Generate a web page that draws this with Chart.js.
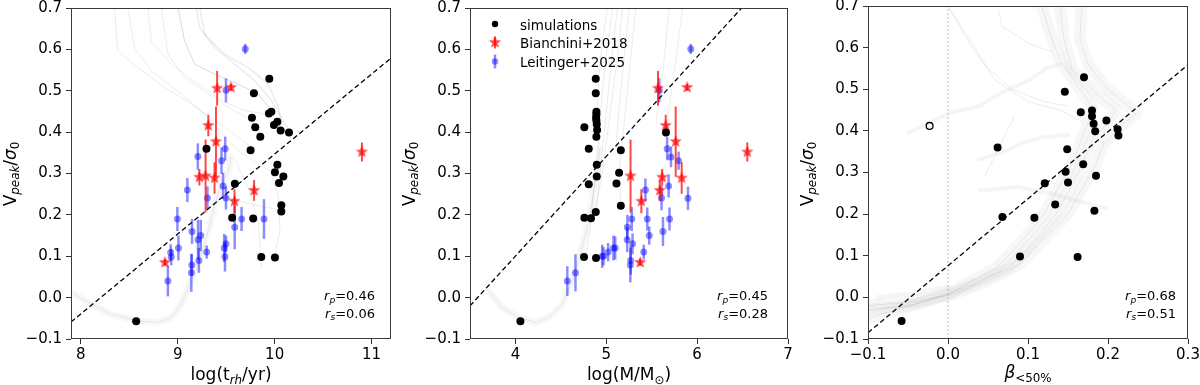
<!DOCTYPE html>
<html><head><meta charset="utf-8">
<script src="https://cdn.jsdelivr.net/npm/chart.js@4.4.1/dist/chart.umd.min.js"></script>
<style>
html,body{margin:0;padding:0;background:#fff;}
#wrap{position:relative;width:1200px;height:385px;overflow:hidden;background:#fff;}
canvas{position:absolute;top:0;}
</style></head><body>
<div id="wrap">
<canvas id="c1" width="400" height="385" style="left:0px"></canvas>
<canvas id="c2" width="400" height="385" style="left:400px"></canvas>
<canvas id="c3" width="400" height="385" style="left:800px"></canvas>
</div>
<script>
// ---------------- DATA ----------------
const yTicks = [-0.1,0.0,0.1,0.2,0.3,0.4,0.5,0.6,0.7];
const x1Ticks = [8,9,10,11];
const x2Ticks = [4,5,6,7];
const x3Ticks = [-0.1,0.0,0.1,0.2,0.3];
const legendLabels = ["simulations","Bianchini+2018","Leitinger+2025"];
const stats1 = ["0.46","0.06"];
const stats2 = ["0.45","0.28"];
const stats3 = ["0.68","0.51"];

// simulations (black)
const p1SimX = [9.945,9.786,9.766,9.941,9.966,9.80,9.993,10.028,10.062,10.148,9.852,9.752,9.297,10.028,10.003,10.09,10.045,9.59,10.069,10.069,9.562,9.779,9.862,10.003,8.572];
const p1SimY = [0.529,0.494,0.435,0.445,0.449,0.412,0.417,0.425,0.404,0.399,0.389,0.356,0.360,0.321,0.303,0.293,0.277,0.275,0.223,0.208,0.193,0.191,0.098,0.097,-0.057];
const p2SimX = [4.884,4.884,4.891,4.891,4.888,4.891,4.895,4.899,4.891,4.759,5.657,4.807,5.16,4.895,5.141,4.895,4.807,5.112,5.16,4.884,4.759,4.832,4.755,4.887,4.055];
const p2SimY = [0.529,0.494,0.449,0.443,0.435,0.428,0.419,0.405,0.389,0.412,0.399,0.360,0.356,0.321,0.302,0.293,0.274,0.276,0.222,0.207,0.193,0.192,0.098,0.096,-0.057];
const p3SimX = [0.170,0.146,0.166,0.180,0.180,0.198,0.182,0.184,0.212,0.213,0.062,0.149,0.169,0.147,0.121,0.150,0.185,0.134,0.183,0.068,0.108,0.090,0.162,-0.058];
const p3SimY = [0.529,0.494,0.445,0.449,0.435,0.425,0.417,0.399,0.404,0.389,0.360,0.356,0.320,0.302,0.274,0.276,0.292,0.223,0.208,0.193,0.191,0.098,0.097,-0.057];
const p3OpenX = [-0.023];
const p3OpenY = [0.412];

// Bianchini+2018 (red stars)
const starY   = [0.506,0.508,0.416,0.377,0.294,0.291,0.289,0.259,0.233,0.085,0.352];
const starErr = [0.042,0.008,0.026,0.085,0.088,0.020,0.038,0.025,0.029,0.008,0.023];
const p1StarX = [9.407,9.550,9.316,9.395,9.288,9.224,9.380,9.788,9.586,8.869,10.900];
const p2StarX = [5.569,5.890,5.654,5.764,5.267,5.615,5.830,5.589,5.386,5.373,6.552];

// Leitinger+2025 (blue)
const p1BlueX = [9.697,9.498,9.208,9.490,9.452,9.100,9.307,9.468,9.498,8.997,9.659,9.890,9.588,9.148,9.210,9.238,9.008,8.928,8.934,9.299,9.480,9.498,9.488,9.219,9.146,9.141,8.899];
const p1BlueY = [0.601,0.501,0.341,0.360,0.331,0.260,0.241,0.270,0.241,0.190,0.190,0.190,0.170,0.160,0.140,0.150,0.120,0.109,0.098,0.110,0.120,0.130,0.099,0.090,0.079,0.060,0.040];
const p1BlueE = [0.012,0.029,0.032,0.029,0.032,0.029,0.028,0.032,0.028,0.029,0.029,0.048,0.053,0.030,0.048,0.038,0.030,0.020,0.020,0.016,0.034,0.020,0.036,0.030,0.026,0.046,0.037];
const p2BlueX = [5.930,5.583,5.670,5.712,5.796,5.686,5.431,5.608,5.899,5.280,5.451,5.696,5.232,5.624,5.230,5.473,5.289,5.079,5.098,5.412,5.020,4.955,4.969,5.269,5.265,4.661,4.571];
const p2BlueY = [0.601,0.501,0.360,0.340,0.331,0.270,0.260,0.241,0.240,0.190,0.190,0.190,0.170,0.160,0.140,0.150,0.130,0.120,0.120,0.110,0.110,0.100,0.100,0.090,0.079,0.060,0.040];
const p2BlueE = [0.012,0.029,0.028,0.025,0.022,0.028,0.028,0.030,0.028,0.029,0.028,0.028,0.030,0.035,0.030,0.022,0.025,0.030,0.028,0.018,0.022,0.028,0.022,0.034,0.042,0.045,0.036];

// linear fits (dashed) and reference line
const p1Fit = [[7.9,-0.059],[11.2,0.579]];
const p2Fit = [[3.5,-0.020],[6.49,0.700]];
const p3Fit = [[-0.1,-0.085],[0.3,0.559]];
const p3Zero = [[0,-0.1],[0,0.7]];

// simulation tracks (grey)
const p1TrkA = [[8.348,0.70],[8.383,0.596],[8.59,0.556],[8.866,0.508],[9.141,0.468],[9.383,0.428],[9.624,0.388],[9.762,0.363]];
const p1TrkB = [[8.693,0.70],[8.728,0.62],[8.934,0.564],[9.21,0.516],[9.452,0.476],[9.693,0.452],[9.90,0.444]];
const p1TrkC = [[9.003,0.70],[9.072,0.62],[9.176,0.564],[9.383,0.54],[9.624,0.516],[9.831,0.492],[9.969,0.452]];
const p1TrkD = [[9.193,0.70],[9.228,0.652],[9.383,0.604],[9.59,0.564],[9.797,0.524],[9.969,0.476],[10.107,0.42],[10.159,0.40]];
const p1TrkE = [[9.228,0.70],[9.279,0.636],[9.486,0.588],[9.728,0.556],[9.934,0.516],[10.038,0.46],[10.07,0.42]];
const p1TrkF = [[8.486,0.70],[8.555,0.604],[8.728,0.548],[9.038,0.492],[9.279,0.444],[9.452,0.396],[9.624,0.355],[9.831,0.323],[9.969,0.305],[10.038,0.241],[10.055,0.161],[10.003,0.105]];
const p1TrkG = [[8.831,0.70],[8.90,0.588],[9.072,0.532],[9.314,0.492],[9.521,0.46],[9.762,0.428],[9.85,0.39]];
const p1TrkH = [[9.417,0.305],[9.521,0.241],[9.762,0.225],[10.038,0.213]];
const p1TrkI = [[9.60,0.33],[9.728,0.265],[9.831,0.185],[9.866,0.073]];
const p1TrkU = [[7.934,0.009],[8.107,-0.016],[8.314,-0.04],[8.59,-0.056],[8.797,-0.06],[8.934,-0.048],[9.038,-0.016],[9.141,0.041],[9.245,0.105],[9.314,0.161],[9.383,0.225],[9.452,0.273],[9.521,0.305],[9.55,0.34]];

const p2TrkA = [[5.012,0.70],[4.957,0.62],[4.92,0.54],[4.902,0.46],[4.89,0.40]];
const p2TrkB = [[5.068,0.70],[5.012,0.604],[4.957,0.50],[4.92,0.396],[4.90,0.33]];
const p2TrkC = [[5.123,0.70],[5.068,0.596],[5.012,0.476],[4.939,0.315],[4.89,0.21]];
const p2TrkD = [[5.178,0.70],[5.123,0.58],[5.049,0.46],[4.957,0.30],[4.86,0.19]];
const p2TrkE = [[5.252,0.70],[5.197,0.58],[5.141,0.46],[5.105,0.363]];
const p2TrkF = [[5.325,0.70],[5.252,0.54],[5.178,0.38],[5.141,0.30],[5.16,0.23]];
const p2TrkG = [[5.841,0.70],[5.768,0.58],[5.694,0.46],[5.657,0.404]];
const p2TrkH = [[5.694,0.70],[5.62,0.54],[5.547,0.42]];
const p2TrkI = [[4.884,0.305],[4.847,0.225],[4.81,0.145],[4.773,0.097]];
const p2TrkU = [[3.705,0.017],[3.852,-0.024],[4.036,-0.048],[4.221,-0.06],[4.368,-0.048],[4.515,-0.016],[4.626,0.041],[4.699,0.097],[4.773,0.153],[4.828,0.209],[4.865,0.265],[4.902,0.305],[4.93,0.36]];

const p3TrkA = [[0.117,0.70],[0.13,0.62],[0.14,0.57],[0.165,0.50],[0.18,0.46],[0.175,0.42],[0.165,0.37],[0.158,0.33],[0.14,0.27],[0.12,0.20],[0.09,0.13],[0.06,0.07],[0.02,0.03],[0.0,0.005],[-0.05,-0.02],[-0.1,-0.03]];
const p3TrkB = [[0.167,0.70],[0.165,0.62],[0.175,0.56],[0.20,0.50],[0.225,0.46],[0.235,0.44],[0.215,0.41],[0.195,0.37],[0.185,0.32],[0.17,0.27],[0.15,0.20],[0.12,0.14],[0.09,0.08],[0.05,0.04],[0.01,0.01],[-0.04,-0.01],[-0.1,-0.02]];
const p3TrkC = [[0.14,0.70],[0.145,0.62],[0.155,0.55],[0.185,0.49],[0.21,0.45],[0.20,0.42],[0.18,0.38],[0.17,0.33],[0.155,0.27],[0.135,0.20],[0.105,0.13],[0.075,0.07],[0.03,0.03],[-0.03,-0.01],[-0.1,-0.05]];
const p3TrkD = [[0.0,0.70],[0.03,0.60],[0.06,0.52],[0.10,0.47],[0.14,0.45],[0.17,0.42]];
const p3TrkE = [[0.0,0.70],[0.02,0.64],[0.05,0.55],[0.08,0.50],[0.12,0.47],[0.15,0.46]];
const p3TrkF = [[0.063,0.69],[0.068,0.65],[0.085,0.63],[0.10,0.61],[0.13,0.59]];
const p3TrkG = [[-0.05,0.395],[0.004,0.444],[0.04,0.46],[0.067,0.492],[0.10,0.52],[0.121,0.548],[0.14,0.56]];
const p3TrkH = [[0.038,0.331],[0.07,0.35],[0.092,0.371],[0.12,0.385],[0.15,0.39]];
const p3TrkI = [[0.04,0.257],[0.088,0.265],[0.129,0.249],[0.198,0.213]];
const p3TrkJ = [[0.083,0.436],[0.046,0.291]];
const p3TrkK = [[-0.0875,0.0],[-0.04,0.01],[0.0,0.025]];

// ---------------- HELPERS ----------------
const FONT = '"DejaVu Sans", "Liberation Sans", sans-serif';
const pts = (xs, ys) => xs.map((x, i) => ({x: x, y: ys[i]}));
const pairs = arr => arr.map(p => ({x: p[0], y: p[1]}));
const fmt1 = v => { const s = Math.abs(v) < 1e-9 ? '0.0' : v.toFixed(1); return s.replace('-', '\u2212'); };
const fmt0 = v => String(Math.round(v));

function makeStar(R, color) {
  const s = Math.ceil(R * 2 + 2);
  const c = document.createElement('canvas'); c.width = s; c.height = s;
  const g = c.getContext('2d'); g.fillStyle = color; g.beginPath();
  for (let i = 0; i < 10; i++) {
    const r = i % 2 ? R * 0.42 : R;
    const a = -Math.PI / 2 + i * Math.PI / 5;
    g.lineTo(s / 2 + r * Math.cos(a), s / 2 + r * Math.sin(a));
  }
  g.closePath(); g.fill(); return c;
}
const RED = 'rgba(255,0,0,0.72)';
const BLUE = 'rgba(0,0,255,0.45)';
const starImg = makeStar(6.5, RED);

function richText(ctx, segs, x, y, size, align, rotate) {
  ctx.save();
  ctx.translate(x, y);
  if (rotate) ctx.rotate(-Math.PI / 2);
  let total = 0;
  const parts = segs.map(sg => {
    const t = sg[0], st = sg[1] || '', gap = sg[2] || 0;
    const sub = st.indexOf('s') >= 0, it = st.indexOf('i') >= 0;
    const fs = sub ? size * 0.7 : size;
    const font = (it ? 'italic ' : '') + fs + 'px ' + FONT;
    ctx.font = font;
    const w = ctx.measureText(t).width;
    total += w + gap * 2;
    return {t, font, w, gap, dy: sub ? size * 0.22 : 0};
  });
  let cx = align === 'center' ? -total / 2 : (align === 'right' ? -total : 0);
  ctx.textBaseline = 'alphabetic'; ctx.textAlign = 'left'; ctx.fillStyle = '#000';
  parts.forEach(p => { cx += p.gap; ctx.font = p.font; ctx.fillText(p.t, cx, p.dy); cx += p.w + p.gap; });
  ctx.restore();
}

const errPlugin = {
  id: 'errbars',
  beforeDatasetDraw(chart, args) {
    const ds = chart.data.datasets[args.index];
    if (!ds.errs) return;
    const xs = chart.scales.x, ys = chart.scales.y, ctx = chart.ctx, a = chart.chartArea;
    ctx.save();
    ctx.beginPath(); ctx.rect(a.left, a.top, a.right - a.left, a.bottom - a.top); ctx.clip();
    ctx.strokeStyle = ds.errColor; ctx.lineWidth = ds.errWidth; ctx.lineCap = 'butt';
    ds.data.forEach((p, i) => {
      const px = xs.getPixelForValue(p.x);
      ctx.beginPath();
      ctx.moveTo(px, ys.getPixelForValue(p.y - ds.errs[i]));
      ctx.lineTo(px, ys.getPixelForValue(p.y + ds.errs[i]));
      ctx.stroke();
    });
    ctx.restore();
  }
};

function decoPlugin(opt) {
  return {
    id: 'deco',
    afterDraw(chart) {
      const ctx = chart.ctx, a = chart.chartArea;
      ctx.save();
      ctx.strokeStyle = '#3a3a3a'; ctx.lineWidth = 1;
      ctx.strokeRect(a.left + 0.5, a.top + 0.5, a.right - a.left - 1, a.bottom - a.top - 1);
      ctx.restore();
      richText(ctx, [['V'], ['peak', 'si'], ['/'], ['\u03c3', 'i'], ['0', 's']], a.left - 55.5, 174, 17, 'center', true);
      richText(ctx, opt.xlabel, (a.left + a.right) / 2, opt.xlabelY, 17, 'center', false);
      richText(ctx, [['r', 'i'], ['p', 'si'], ['=' + opt.stats[0], '']], opt.statRight, 300, 13, 'right', false);
      richText(ctx, [['r', 'i'], ['s', 'si'], ['=' + opt.stats[1], '']], opt.statRight, 317.5, 13, 'right', false);
      if (opt.legend) {
        const lx = 95, tx = 120;
        const rows = [24, 42.5, 61.5];
        ctx.save();
        ctx.fillStyle = '#000';
        ctx.beginPath(); ctx.arc(lx, rows[0], 3.2, 0, Math.PI * 2); ctx.fill();
        ctx.strokeStyle = RED; ctx.lineWidth = 2;
        ctx.beginPath(); ctx.moveTo(lx, rows[1] - 6); ctx.lineTo(lx, rows[1] + 6); ctx.stroke();
        ctx.drawImage(starImg, lx - starImg.width / 2, rows[1] - starImg.height / 2);
        ctx.strokeStyle = BLUE; ctx.lineWidth = 2.5;
        ctx.beginPath(); ctx.moveTo(lx, rows[2] - 7); ctx.lineTo(lx, rows[2] + 7); ctx.stroke();
        ctx.fillStyle = BLUE; ctx.beginPath(); ctx.arc(lx, rows[2], 3.2, 0, Math.PI * 2); ctx.fill();
        ctx.fillStyle = '#000'; ctx.font = '13.5px ' + FONT; ctx.textBaseline = 'alphabetic'; ctx.textAlign = 'left';
        ctx.fillText(legendLabels[0], tx, 29.5);
        ctx.fillText(legendLabels[1], tx, 48);
        ctx.fillText(legendLabels[2], tx, 66.5);
        ctx.restore();
      }
    }
  };
}

function trackDs(arr, color, width) {
  return {data: pairs(arr), showLine: true, pointRadius: 0, borderColor: color, borderWidth: width, fill: false, tension: 0, borderJoinStyle: 'round', borderCapStyle: 'round'};
}
const THIN = 'rgba(0,0,0,0.08)';
const DARK = 'rgba(0,0,0,0.15)';
const BAND = 'rgba(0,0,0,0.04)';
const WIDE = 'rgba(0,0,0,0.03)';

function makeChart(id, o) {
  const datasets = [];
  datasets.push({data: pts(o.simX, o.simY), pointRadius: 4, backgroundColor: '#000', borderWidth: 0});
  if (o.openX) datasets.push({data: pts(o.openX, o.openY), pointRadius: 3.4, backgroundColor: '#fff', borderColor: '#000', borderWidth: 1.3});
  if (o.starX) datasets.push({data: pts(o.starX, starY), pointStyle: starImg, pointRadius: 7, errs: starErr, errColor: RED, errWidth: 2});
  if (o.blueX) datasets.push({data: pts(o.blueX, o.blueY), pointRadius: 3.5, backgroundColor: BLUE, borderWidth: 0, errs: o.blueE, errColor: BLUE, errWidth: 2.5});
  datasets.push({data: pairs(o.fit), showLine: true, pointRadius: 0, borderColor: '#000', borderWidth: 1.3, borderDash: [5, 3], fill: false});
  if (o.zero) datasets.push({data: pairs(o.zero), showLine: true, pointRadius: 0, borderColor: '#aaa', borderWidth: 0.8, borderDash: [2, 2], fill: false});
  o.tracks.forEach(t => datasets.push(trackDs(t[0], t[1], t[2])));

  return new Chart(document.getElementById(id), {
    type: 'scatter',
    data: {datasets},
    options: {
      responsive: false, animation: false, events: [],
      layout: {padding: {left: 0, right: o.padRight, top: 6, bottom: 0}},
      plugins: {legend: {display: false}, tooltip: {enabled: false}, title: {display: false}},
      scales: {
        x: {
          type: 'linear', min: o.xmin, max: o.xmax,
          afterBuildTicks: s => { s.ticks = o.xTicks.map(v => ({value: v})); },
          afterFit: s => { s.height = 46; s.paddingLeft = 0; s.paddingRight = 0; },
          ticks: {callback: o.xfmt, font: {family: FONT, size: 15}, color: '#000', padding: 2, maxRotation: 0, autoSkip: false},
          grid: {drawOnChartArea: false, drawTicks: true, tickLength: 5, tickColor: '#333', tickWidth: 1},
          border: {display: false}
        },
        y: {
          type: 'linear', min: -0.1, max: 0.7,
          afterBuildTicks: s => { s.ticks = yTicks.map(v => ({value: v})); },
          afterFit: s => { s.width = o.left; s.paddingTop = 0; s.paddingBottom = 0; },
          ticks: {callback: fmt1, font: {family: FONT, size: 15}, color: '#000', padding: 4, autoSkip: false},
          grid: {drawOnChartArea: false, drawTicks: true, tickLength: 5, tickColor: '#333', tickWidth: 1},
          border: {display: false}
        }
      }
    },
    plugins: [errPlugin, decoPlugin(o.deco)]
  });
}

makeChart('c1', {
  left: 71, padRight: 9, xmin: 7.9, xmax: 11.2, xTicks: x1Ticks, xfmt: fmt0,
  simX: p1SimX, simY: p1SimY, starX: p1StarX, blueX: p1BlueX, blueY: p1BlueY, blueE: p1BlueE, fit: p1Fit,
  tracks: [[p1TrkU, WIDE, 7], [p1TrkU, THIN, 1], [p1TrkA, THIN, 1], [p1TrkB, THIN, 1], [p1TrkC, DARK, 1], [p1TrkD, THIN, 1.5], [p1TrkE, THIN, 1.5], [p1TrkF, THIN, 1], [p1TrkG, THIN, 1], [p1TrkH, THIN, 1], [p1TrkI, THIN, 1]],
  deco: {xlabel: [['log(t'], ['rh', 'si'], ['/yr)']], xlabelY: 380, stats: stats1, statRight: 375}
});
makeChart('c2', {
  left: 70, padRight: 12, xmin: 3.5, xmax: 7, xTicks: x2Ticks, xfmt: fmt0,
  simX: p2SimX, simY: p2SimY, starX: p2StarX, blueX: p2BlueX, blueY: p2BlueY, blueE: p2BlueE, fit: p2Fit,
  tracks: [[p2TrkU, WIDE, 7], [p2TrkU, THIN, 1], [p2TrkA, THIN, 1], [p2TrkB, THIN, 1], [p2TrkC, THIN, 1], [p2TrkD, THIN, 1], [p2TrkE, THIN, 1], [p2TrkF, THIN, 1], [p2TrkG, THIN, 1], [p2TrkH, THIN, 1], [p2TrkI, THIN, 1]],
  deco: {xlabel: [['log(M/M'], ['\u2299', 's'], [')']], xlabelY: 380, stats: stats2, statRight: 368, legend: true}
});
makeChart('c3', {
  left: 68, padRight: 12, xmin: -0.1, xmax: 0.3, xTicks: x3Ticks, xfmt: fmt1,
  simX: p3SimX, simY: p3SimY, openX: p3OpenX, openY: p3OpenY, fit: p3Fit, zero: p3Zero,
  tracks: [[p3TrkA, WIDE, 12], [p3TrkB, WIDE, 12], [p3TrkC, WIDE, 12], [p3TrkA, THIN, 1], [p3TrkB, THIN, 1], [p3TrkC, THIN, 1], [p3TrkD, THIN, 1], [p3TrkE, THIN, 1], [p3TrkF, THIN, 1], [p3TrkG, BAND, 4], [p3TrkH, BAND, 4], [p3TrkI, BAND, 4], [p3TrkJ, THIN, 1], [p3TrkK, BAND, 5]],
  deco: {xlabel: [['\u03b2', 'i'], ['<50%', 's']], xlabelY: 378, stats: stats3, statRight: 376}
});
</script>
</body></html>
